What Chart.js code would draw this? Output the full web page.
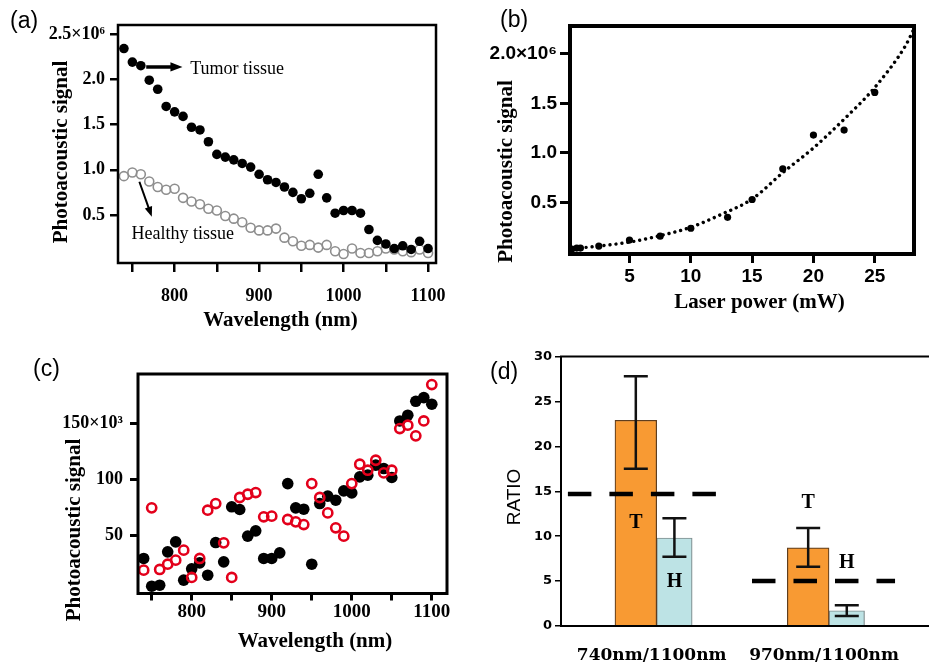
<!DOCTYPE html>
<html>
<head>
<meta charset="utf-8">
<title>Photoacoustic signal figure</title>
<script src="https://cdn.jsdelivr.net/npm/chart.js@4.4.1/dist/chart.umd.min.js"></script>
<style>
  body { margin: 0; background: #fff; }
  #figure { position: relative; width: 929px; height: 668px; background: #fff; overflow: hidden; }
  #figure canvas { position: absolute; }
  .panel-tag { position: absolute; font: 23px "Liberation Sans", Arial, sans-serif; line-height: 23px; color: #000; }
</style>
</head>
<body>
<div id="figure">
  <canvas id="chartA" width="460" height="340" style="left:0;top:0"></canvas>
  <canvas id="chartB" width="469" height="340" style="left:460px;top:0"></canvas>
  <canvas id="chartC" width="460" height="328" style="left:0;top:340px"></canvas>
  <canvas id="chartD" width="469" height="328" style="left:460px;top:340px"></canvas>
  <div class="panel-tag" style="left:10px;top:9px">(a)</div>
  <div class="panel-tag" style="left:500px;top:8px">(b)</div>
  <div class="panel-tag" style="left:33px;top:357px">(c)</div>
  <div class="panel-tag" style="left:490px;top:360px">(d)</div>
</div>
<script>
// (a) wavelength scan, signal in units of 1e6
const wavelengthsA = [740, 750, 760, 770, 780, 790, 800, 810, 820, 830, 840, 850, 860, 870, 880, 890, 900, 910, 920,
    930, 940, 950, 960, 970, 980, 990, 1000, 1010, 1020, 1030, 1040, 1050, 1060, 1070, 1080, 1090, 1100];
const tumorA = [2.34, 2.19, 2.15, 1.99, 1.89, 1.70, 1.64, 1.59, 1.47, 1.44, 1.31, 1.17, 1.14, 1.11, 1.07, 1.03, 0.95,
    0.89, 0.86, 0.81, 0.75, 0.68, 0.74, 0.95, 0.69, 0.52, 0.55, 0.55, 0.52, 0.34, 0.22, 0.18, 0.13, 0.16, 0.12, 0.21, 0.13];
const healthyA = [0.93, 0.97, 0.95, 0.87, 0.81, 0.78, 0.79, 0.69, 0.65, 0.62, 0.57, 0.55, 0.49, 0.46, 0.42, 0.36, 0.33,
    0.33, 0.35, 0.25, 0.21, 0.16, 0.17, 0.14, 0.17, 0.10, 0.07, 0.13, 0.08, 0.08, 0.10, 0.13, 0.12, 0.10, 0.09, 0.12, 0.08];
const xTicksA = [750, 800, 850, 900, 950, 1000, 1050, 1100];
const yTicksA = [0.5, 1.0, 1.5, 2.0, 2.5];

// (b) signal against laser power, units of 1e6
const laserPower = [0.3, 0.7, 1, 2.5, 5, 7.5, 10, 13, 15, 17.5, 20, 22.5, 25];
const signalB = [0.03, 0.04, 0.04, 0.06, 0.12, 0.16, 0.24, 0.35, 0.53, 0.84, 1.18, 1.23, 1.61];
// dotted fit curve
const fitPower = [0, 2.5, 5, 7.5, 10, 12.5, 15, 17.5, 20, 22.5, 25, 27.5, 28.2];
const fitSignal = [0.03, 0.06, 0.10, 0.165, 0.25, 0.38, 0.535, 0.80, 1.05, 1.34, 1.66, 2.08, 2.25];
const xTicksB = [5, 10, 15, 20, 25];
const yTicksB = [0.5, 1.0, 1.5, 2.0];

// (c) second wavelength scan, units of 1e3
const wavelengthsC = wavelengthsA;
const blackC = [29.7, 5.0, 5.9, 35.6, 44.5, 10.4, 20.5, 25.8, 14.8, 43.9, 26.7, 75.7, 73.3, 49.6, 54.3, 29.7, 29.7,
    34.7, 96.4, 74.8, 73.6, 24.6, 78.6, 85.2, 81.6, 89.9, 88.1, 102.4, 103.9, 112.8, 109.8, 101.8, 152.2, 157.3, 169.7,
    173.0, 167.1];
const redC = [19.3, 74.8, 19.9, 24.6, 28.2, 37.1, 12.8, 29.7, 72.7, 78.6, 43.6, 12.8, 84.0, 86.9, 88.4, 66.8, 67.4,
    null, 64.4, 62.3, 59.9, 96.4, 84.0, 70.3, 57.0, 49.6, 96.4, 113.6, 108.3, 117.2, 105.9, 108.3, 145.4, 148.4, 138.9,
    152.2, 184.6];
const xTicksC = [750, 800, 850, 900, 950, 1000, 1050, 1100];
const yTicksC = [50, 100, 150];

// (d) ratios, T = tumor, H = healthy
const ratioLabels = ['740nm/1100nm', '970nm/1100nm'];
const tumorRatio = [22.9, 8.7];
const tumorErr = [[17.5, 27.8], [6.6, 10.9]];
const healthyRatio = [9.8, 1.7];
const healthyErr = [[7.7, 12.0], [1.1, 2.3]];
const thresholds = [14.7, 5.0];
const thresholdSpan = [[-0.515, 0.35], [0.553, 1.383]];
const yTicksD = [0, 5, 10, 15, 20, 25, 30];

const SERIF = '"Liberation Serif", "Times New Roman", serif';
const SANS = '"Liberation Sans", Arial, sans-serif';

const toPoints = (xs, ys) => xs.map((x, i) => ({ x, y: ys[i] })).filter(p => p.y !== null);
const groupPos = ratioLabels.map((_, i) => i);

// axis with ticks exactly at the given values and a fixed thickness
function axis(o) {
    return {
        type: 'linear',
        min: o.min,
        max: o.max,
        afterBuildTicks: scale => { scale.ticks = o.ticks.map(value => ({ value })); },
        afterFit: scale => {
            if (scale.isHorizontal()) scale.height = o.size; else scale.width = o.size;
        },
        border: { display: false },
        grid: { drawOnChartArea: false, color: '#000', tickLength: o.tickLength, lineWidth: o.tickWidth },
        ticks: { color: '#000', font: o.font, padding: o.padding, autoSkip: false, maxRotation: 0, callback: o.format }
    };
}

// box (or some sides of it) round the plot area
const framePlugin = {
    id: 'frame',
    afterDatasetsDraw(chart, args, opts) {
        const { ctx, chartArea: a } = chart;
        const sides = opts.sides || 'trbl';
        ctx.save();
        ctx.strokeStyle = '#000';
        ctx.lineWidth = opts.width;
        ctx.lineCap = 'square';
        ctx.beginPath();
        if (sides.includes('t')) { ctx.moveTo(a.left, a.top); ctx.lineTo(a.right, a.top); }
        if (sides.includes('r')) { ctx.moveTo(a.right, a.top); ctx.lineTo(a.right, a.bottom); }
        if (sides.includes('b')) { ctx.moveTo(a.left, a.bottom); ctx.lineTo(a.right, a.bottom); }
        if (sides.includes('l')) { ctx.moveTo(a.left, a.top); ctx.lineTo(a.left, a.bottom); }
        ctx.stroke();
        ctx.restore();
    }
};

// the axis titles sit off-centre in the original, so they are placed by hand
function axisTitles(items) {
    return {
        id: 'axisTitles',
        afterDraw(chart) {
            const ctx = chart.ctx;
            items.forEach(t => {
                ctx.save();
                ctx.font = t.font;
                ctx.fillStyle = '#000';
                ctx.textAlign = 'center';
                ctx.textBaseline = 'middle';
                ctx.translate(t.x, t.y);
                if (t.vertical) ctx.rotate(-Math.PI / 2);
                ctx.fillText(t.text, 0, 0);
                ctx.restore();
            });
        }
    };
}

function drawArrow(ctx, x1, y1, x2, y2, width, head) {
    const ang = Math.atan2(y2 - y1, x2 - x1);
    ctx.lineWidth = width;
    ctx.beginPath();
    ctx.moveTo(x1, y1);
    ctx.lineTo(x2 - Math.cos(ang) * head * 0.8, y2 - Math.sin(ang) * head * 0.8);
    ctx.stroke();
    ctx.beginPath();
    ctx.moveTo(x2, y2);
    ctx.lineTo(x2 - head * Math.cos(ang) + (head / 2.6) * Math.sin(ang), y2 - head * Math.sin(ang) - (head / 2.6) * Math.cos(ang));
    ctx.lineTo(x2 - head * Math.cos(ang) - (head / 2.6) * Math.sin(ang), y2 - head * Math.sin(ang) + (head / 2.6) * Math.cos(ang));
    ctx.closePath();
    ctx.fill();
}

// "Tumor tissue" / "Healthy tissue" notes with arrows, in data units
const tissueNotes = {
    id: 'tissueNotes',
    afterDatasetsDraw(chart) {
        const { ctx, scales: { x, y } } = chart;
        ctx.save();
        ctx.fillStyle = '#000';
        ctx.strokeStyle = '#000';
        ctx.font = '18px ' + SERIF;
        ctx.textBaseline = 'middle';
        ctx.fillText('Tumor tissue', x.getPixelForValue(818.5), y.getPixelForValue(2.11));
        ctx.fillText('Healthy tissue', x.getPixelForValue(749), y.getPixelForValue(0.29));
        drawArrow(ctx, x.getPixelForValue(766.4), y.getPixelForValue(2.136),
            x.getPixelForValue(809.3), y.getPixelForValue(2.136), 3.5, 12);
        drawArrow(ctx, x.getPixelForValue(758.3), y.getPixelForValue(0.868),
            x.getPixelForValue(773.0), y.getPixelForValue(0.482), 2, 10);
        ctx.restore();
    }
};

const quiet = { legend: { display: false }, tooltip: { enabled: false } };

// (a)
new Chart(document.getElementById('chartA'), {
    type: 'scatter',
    data: {
        datasets: [
            {
                data: toPoints(wavelengthsA, tumorA), order: 0,
                pointRadius: 4.8, pointBackgroundColor: '#000', pointBorderColor: '#000', pointBorderWidth: 0
            },
            {
                data: toPoints(wavelengthsA, healthyA), order: 1,
                pointRadius: 4.5, pointBackgroundColor: 'rgba(0,0,0,0)', pointBorderColor: '#8e8e8e', pointBorderWidth: 1.6
            }
        ]
    },
    options: {
        responsive: false, animation: false, events: [],
        layout: { padding: { left: 0, right: 17, top: 25, bottom: 0 } },
        plugins: { ...quiet, frame: { width: 2.5 } },
        scales: {
            x: axis({
                min: 733, max: 1109.4, ticks: xTicksA, size: 77, tickLength: 9, tickWidth: 2.5, padding: 14,
                font: { family: SERIF, size: 18, weight: 'bold' },
                format: v => (v % 100 === 0 ? String(v) : '')
            }),
            y: axis({
                min: -0.03, max: 2.6, ticks: yTicksA, size: 118, tickLength: 8, tickWidth: 2.5, padding: 5,
                font: { family: SERIF, size: 18, weight: 'bold' },
                format: v => (v === 2.5 ? '2.5×10⁶' : v.toFixed(1))
            })
        }
    },
    plugins: [framePlugin, tissueNotes, axisTitles([
        { text: 'Photoacoustic signal', x: 62, y: 152, vertical: true, font: 'bold 21px ' + SERIF },
        { text: 'Wavelength (nm)', x: 280.5, y: 321, font: 'bold 21px ' + SERIF }
    ])]
});

// (b)
new Chart(document.getElementById('chartB'), {
    type: 'scatter',
    data: {
        datasets: [
            {
                data: toPoints(fitPower, fitSignal), order: 1, showLine: true, pointRadius: 0,
                borderColor: '#000', borderWidth: 3.4, borderDash: [0.01, 6], borderCapStyle: 'round',
                cubicInterpolationMode: 'monotone'
            },
            {
                data: toPoints(laserPower, signalB), order: 0,
                pointRadius: 3.6, pointBackgroundColor: '#000', pointBorderColor: '#000', pointBorderWidth: 0
            }
        ]
    },
    options: {
        responsive: false, animation: false, events: [],
        layout: { padding: { left: 0, right: 15, top: 26, bottom: 0 } },
        plugins: { ...quiet, frame: { width: 4 } },
        scales: {
            x: axis({
                min: 0.15, max: 28.2, ticks: xTicksB, size: 86, tickLength: 9, tickWidth: 3, padding: 2,
                font: { family: SANS, size: 19, weight: 'bold' },
                format: v => String(v)
            }),
            y: axis({
                min: -0.02, max: 2.28, ticks: yTicksB, size: 110, tickLength: 10, tickWidth: 3, padding: 3,
                font: { family: SANS, size: 19, weight: 'bold' },
                format: v => (v === 2 ? '2.0×10⁶' : v.toFixed(1))
            })
        }
    },
    plugins: [framePlugin, axisTitles([
        { text: 'Photoacoustic signal', x: 46.7, y: 171.5, vertical: true, font: 'bold 21px ' + SERIF },
        { text: 'Laser power (mW)', x: 299.5, y: 303, font: 'bold 21px ' + SERIF }
    ])]
});

// (c)
new Chart(document.getElementById('chartC'), {
    type: 'scatter',
    data: {
        datasets: [
            {
                data: toPoints(wavelengthsC, redC), order: 0,
                pointRadius: 4.6, pointBackgroundColor: 'rgba(0,0,0,0)', pointBorderColor: '#e3001b', pointBorderWidth: 2.6
            },
            {
                data: toPoints(wavelengthsC, blackC), order: 1,
                pointRadius: 5.8, pointBackgroundColor: '#000', pointBorderColor: '#000', pointBorderWidth: 0
            }
        ]
    },
    options: {
        responsive: false, animation: false, events: [],
        layout: { padding: { left: 0, right: 13, top: 34, bottom: 0 } },
        plugins: { ...quiet, frame: { width: 3 } },
        scales: {
            x: axis({
                min: 732.9, max: 1119, ticks: xTicksC, size: 74.5, tickLength: 7, tickWidth: 3, padding: 0,
                font: { family: SERIF, size: 19, weight: 'bold' },
                format: v => (v % 100 === 0 ? String(v) : '')
            }),
            y: axis({
                min: -1.5, max: 194, ticks: yTicksC, size: 138, tickLength: 8, tickWidth: 3, padding: 7,
                font: { family: SERIF, size: 18, weight: 'bold' },
                format: v => (v === 150 ? '150×10³' : String(v))
            })
        }
    },
    plugins: [framePlugin, axisTitles([
        { text: 'Photoacoustic signal', x: 75, y: 190, vertical: true, font: 'bold 21px ' + SERIF },
        { text: 'Wavelength (nm)', x: 315, y: 301.7, font: 'bold 21px ' + SERIF }
    ])]
});

// (d) error bars from the low/high pairs stored on each bar dataset
const errorBars = {
    id: 'errorBars',
    afterDatasetsDraw(chart) {
        const { ctx, scales: { y } } = chart;
        ctx.save();
        ctx.strokeStyle = '#111';
        ctx.lineWidth = 2.5;
        chart.data.datasets.forEach((ds, di) => {
            if (!ds.errors) return;
            chart.getDatasetMeta(di).data.forEach((bar, i) => {
                const lo = y.getPixelForValue(ds.errors[i][0]);
                const hi = y.getPixelForValue(ds.errors[i][1]);
                ctx.beginPath();
                ctx.moveTo(bar.x, lo); ctx.lineTo(bar.x, hi);
                ctx.moveTo(bar.x - 12, lo); ctx.lineTo(bar.x + 12, lo);
                ctx.moveTo(bar.x - 12, hi); ctx.lineTo(bar.x + 12, hi);
                ctx.stroke();
            });
        });
        ctx.restore();
    }
};

// T / H letters by each bar (dataset, bar index, height in RATIO units)
const barTags = [
    { dataset: 2, index: 0, y: 11.45 },
    { dataset: 3, index: 0, y: 4.9 },
    { dataset: 2, index: 1, y: 13.7 },
    { dataset: 3, index: 1, y: 7.05 }
];
const barTagPlugin = {
    id: 'barTags',
    afterDatasetsDraw(chart) {
        const { ctx, scales: { y } } = chart;
        ctx.save();
        ctx.fillStyle = '#000';
        ctx.font = 'bold 20px ' + SERIF;
        ctx.textAlign = 'center';
        ctx.textBaseline = 'middle';
        barTags.forEach(t => {
            const bar = chart.getDatasetMeta(t.dataset).data[t.index];
            ctx.fillText(chart.data.datasets[t.dataset].label, bar.x, y.getPixelForValue(t.y));
        });
        ctx.restore();
    }
};

const dashed = (span, level) => ({
    type: 'line', order: 0,
    data: [{ x: span[0], y: level }, { x: span[1], y: level }],
    borderColor: '#000', borderWidth: 4.5, borderDash: [23.5, 18], pointRadius: 0
});

const xD = axis({
    min: -0.555, max: 1.58, ticks: groupPos, size: 42, tickLength: 0, tickWidth: 0, padding: 19,
    font: { family: '"DejaVu Serif", serif', size: 17, weight: 'bold' },
    format: v => ratioLabels[v]
});
xD.offset = false;
xD.grid.drawTicks = false;
xD.grid.offset = false;
xD.ticks.labelOffset = -5;

new Chart(document.getElementById('chartD'), {
    type: 'bar',
    data: {
        datasets: [
            dashed(thresholdSpan[0], thresholds[0]),
            dashed(thresholdSpan[1], thresholds[1]),
            {
                label: 'T', order: 1, data: toPoints(groupPos, tumorRatio), errors: tumorErr,
                backgroundColor: '#f89a33', borderColor: '#5e3d1e', borderWidth: 1.2, barThickness: 41.7
            },
            {
                label: 'H', order: 1, data: toPoints(groupPos, healthyRatio), errors: healthyErr,
                backgroundColor: '#bde3e5', borderColor: '#7e8c8d', borderWidth: 1.2, barThickness: 35.5
            }
        ]
    },
    options: {
        responsive: false, animation: false, events: [],
        layout: { padding: { left: 0, right: 0, top: 16.5, bottom: 0 } },
        plugins: { ...quiet, frame: { width: 2, sides: 'tbl' } },
        scales: {
            x: xD,
            y: axis({
                min: 0, max: 30, ticks: yTicksD, size: 101, tickLength: 6, tickWidth: 1.5, padding: 3,
                font: { family: '"DejaVu Sans", sans-serif', size: 13, weight: 'bold' },
                format: v => String(v)
            })
        }
    },
    plugins: [framePlugin, errorBars, barTagPlugin, axisTitles([
        { text: 'RATIO', x: 55, y: 157, vertical: true, font: '19px ' + SANS }
    ])]
});
</script>
</body>
</html>
